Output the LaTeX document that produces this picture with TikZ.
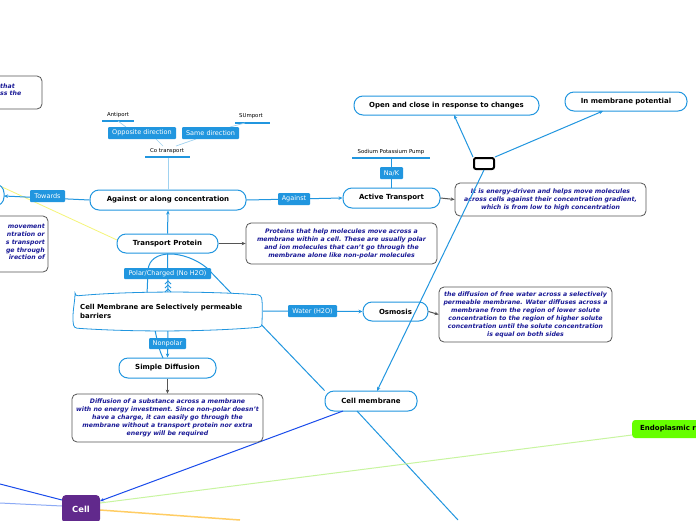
\documentclass[tikz,border=0pt]{standalone}
\usepackage{fontspec}
\setmainfont{DejaVu Sans}
\usetikzlibrary{arrows.meta}
\definecolor{mblue}{RGB}{33,150,223}
\definecolor{lblue}{RGB}{160,210,240}
\definecolor{dblue}{RGB}{25,75,235}
\definecolor{navy}{RGB}{25,25,150}
\definecolor{gborder}{RGB}{85,85,85}
\definecolor{purp}{RGB}{97,41,140}
\definecolor{lgreen}{RGB}{102,255,0}
\definecolor{paleg}{RGB}{200,245,160}
\definecolor{paleo}{RGB}{255,205,100}
\definecolor{paley}{RGB}{245,245,120}
\definecolor{paleb}{RGB}{140,170,245}
\tikzset{
  pill/.style={draw=mblue, line width=1pt, fill=white, rounded corners=9pt, inner sep=0pt, font=\bfseries\fontsize{7}{8}\selectfont},
  tag/.style={fill=mblue, text=white, rounded corners=1pt, inner sep=0pt, font=\fontsize{6.5}{7}\selectfont},
  tinytxt/.style={font=\fontsize{5.4}{6}\selectfont, inner sep=0pt},
  desc/.style={draw=gborder, line width=0.8pt, fill=white, rounded corners=5pt, inner sep=0pt, align=center, text=navy, font=\bfseries\itshape\fontsize{6.2}{8}\selectfont},
  bar/.style={mblue, line width=2pt},
  thinl/.style={lblue, line width=0.7pt},
  conn/.style={mblue, line width=1pt},
  tip/.style={-{Stealth[length=4pt,width=3.5pt]}},
  garrow/.style={gborder, line width=1pt, -{Stealth[length=4pt,width=3.5pt]}},
}
\begin{document}
\begin{tikzpicture}[x=1pt,y=-1pt]
\useasboundingbox (0,0) rectangle (696,520);
\clip (0,0) rectangle (696,520);
\fill[white] (0,0) rectangle (696,520);

% coordinates for free ends
\coordinate (leftc) at (4,196);
\coordinate (yl0) at (0,186);
\coordinate (cb1) at (0,484);
\coordinate (cb2) at (0,503);
\coordinate (co1) at (240,520);
\coordinate (cmd) at (458,520);
\coordinate (loopA) at (207,268);
\coordinate (loopB) at (147,295);

% pale background connectors
\draw[paley, line width=0.8pt] (yl0) -- (117,240);

% partial nodes at the left edge
\draw[gborder, line width=0.8pt, fill=white, rounded corners=5pt] (-40,76) rectangle (42,109);
\node[anchor=west, inner sep=0pt, align=left, text=navy, font=\bfseries\itshape\fontsize{6.2}{7.4}\selectfont] (tl) at (0,89.5) {that\\ss the};
\draw[gborder, line width=0.8pt, fill=white, rounded corners=5pt] (-40,216) rectangle (48,272);
\node[anchor=east, inner sep=0pt, align=right, text=navy, font=\bfseries\itshape\fontsize{6.2}{7.9}\selectfont] (lb) at (45,242) {movement\\ntration or\\s transport\\ge through\\irection of};
\draw[mblue, line width=1pt, fill=white, rounded corners=9pt] (-20,184) rectangle (4,206);

% main pill nodes
\node[pill, minimum width=156, minimum height=20] (against) at (168,200) {Against or along concentration};
\node[pill, minimum width=97, minimum height=20] (active) at (391.5,198) {Active Transport};
\node[pill, minimum width=185, minimum height=19] (open) at (446.5,105.5) {Open and close in response to changes};
\node[pill, minimum width=122, minimum height=19] (inmem) at (626,101.5) {In membrane potential};
\node[pill, minimum width=101, minimum height=19] (tp) at (167.5,243.5) {Transport Protein};
\node[pill, minimum width=65, minimum height=19] (osm) at (395.5,311.5) {Osmosis};
\node[pill, minimum width=97, minimum height=20] (sd) at (167.5,368) {Simple Diffusion};
\node[pill, minimum width=92, minimum height=20] (cm) at (371,401) {Cell membrane};

% small texts and bars
\node[tinytxt] (anti) at (118,115) {Antiport};
\draw[bar] (102,121) -- (134,121);
\node[tinytxt] (sym) at (251,116) {SUmport};
\draw[bar] (235,123) -- (270,123);
\node[tinytxt] (cot) at (167,151) {Co transport};
\draw[bar] (145,157) -- (190,157);
\node[tinytxt] (spp) at (391,152) {Sodium Potassium Pump};
\draw[bar] (352,158) -- (430,158);

% thin light connectors of the co-transport group
\draw[thinl] (118,121) -- (126,127);
\draw[thinl] (245,123) -- (230,127);
\draw[thinl] (156,139) -- (163,146);
\draw[thinl] (196,139) -- (176,146);
\draw[thinl] (168,158) -- (against.north);

% connectors
\draw[conn, tip] (against.west) -- (leftc);
\draw[conn, tip] (against.east) -- (active.west);
\draw[conn] (391.5,158) -- (active.north);
\draw[conn, tip] (tp.north) -- (against.south);
\draw[conn] (cm.north west) -- (loopA) .. controls (185,250) and (150,248) .. (148,270) -- (loopB);
\draw[conn] (155,330) .. controls (158,345) and (160,352) .. (163,358);
\draw[conn] (168,293) -- (tp.south);
\draw[conn, tip] (168,330) -- (sd.north);
\draw[conn, tip] (263,311) -- (osm.west);
\draw[dblue, line width=1pt, tip] (343,411) -- (100,501);
\draw[conn] (357,411) -- (cmd);

% Cell connectors
\draw[dblue, line width=1pt] (62,500) -- (cb1);
\draw[paleb, line width=1pt] (62,506) -- (cb2);
\draw[paleg, line width=1pt] (100,503) -- (632,435);
\draw[paleo, line width=1.5pt] (100,510) -- (co1);

% membrane banner
\draw[mblue, line width=0.8pt, fill=white, rounded corners=3pt] (75,296) .. controls (130,291) and (205,291) .. (261,295)
  .. controls (263,305) and (262,318) .. (262,327)
  .. controls (205,332) and (130,332) .. (74,328)
  .. controls (72,316) and (74,306) .. (75,296) -- cycle;
\node[anchor=west, inner sep=0pt, align=left, font=\bfseries\fontsize{6.9}{9}\selectfont] (memb) at (80,311.5) {Cell Membrane are Selectively permeable\\barriers};

% stacked arrowheads
\foreach \yy in {284,288,292} {
  \draw[mblue, line width=0.8pt] (165,\yy) -- (168,\yy-3) -- (171,\yy);
}

% description boxes
\node[desc, minimum width=191, minimum height=33] (energy) at (550.5,199.5) {It is energy-driven and helps move molecules\\across cells against their concentration gradient,\\which is from low to high concentration};
\node[desc, minimum width=191, minimum height=41] (prot) at (341.5,243.5) {Proteins that help molecules move across a\\membrane within a cell. These are usually polar\\and ion molecules that can't go through the\\membrane alone like non-polar molecules};
\node[desc, minimum width=191, minimum height=48] (diff) at (167.5,418) {Diffusion of a substance across a membrane\\with no energy investment. Since non-polar doesn't\\have a charge, it can easily go through the\\membrane without a transport protein nor extra\\energy will be required};
\node[desc, minimum width=173, minimum height=55] (osmd) at (525.5,314.5) {the diffusion of free water across a selectively\\permeable membrane. Water diffuses across a\\membrane from the region of lower solute\\concentration to the region of higher solute\\concentration until the solute concentration\\is equal on both sides};

\draw[garrow] (active.east) -- (energy.west);
\draw[garrow] (tp.east) -- (prot.west);
\draw[garrow] (sd.south) -- (diff.north);
\draw[garrow] (osm.east) -- (osmd.west);

% black small node
\node[draw=black, line width=2pt, fill=white, rounded corners=2pt, minimum width=20, minimum height=11, inner sep=0pt] (blk) at (484,163.5) {};
\draw[conn, tip] (blk.north west) -- (454,115);
\draw[conn, tip] (blk.north east) -- (603,111);
\draw[conn, tip] (blk.south) -- (377,391);

% tags
\node[tag, minimum width=68, minimum height=12] (opp) at (142,133) {Opposite direction};
\node[tag, minimum width=57, minimum height=12] (same) at (210.5,133) {Same direction};
\node[tag, minimum width=35, minimum height=12] (tow) at (47.5,196) {Towards};
\node[tag, minimum width=32, minimum height=12] (agl) at (294,199) {Against};
\node[tag, minimum width=23, minimum height=12] (nak) at (391.5,173) {Na/K};
\node[tag, minimum width=87, minimum height=11] (polar) at (167.5,273.5) {Polar/Charged (No H2O)};
\node[tag, minimum width=37, minimum height=11] (nonp) at (167.5,343.5) {Nonpolar};
\node[tag, minimum width=49, minimum height=12] (water) at (312.5,311) {Water (H2O)};

% Cell and ER
\node[fill=purp, text=white, rounded corners=4pt, minimum width=38, minimum height=28, inner sep=0pt, font=\bfseries\fontsize{8.4}{9}\selectfont] (cell) at (81,509) {Cell};
\node[fill=lgreen, rounded corners=3pt, minimum width=90, minimum height=18, inner sep=0pt, anchor=west] (er) at (632,429) {};
\node[anchor=west, inner sep=0pt, font=\bfseries\fontsize{7}{8}\selectfont] (ert) at (640,429) {Endoplasmic r};
\end{tikzpicture}
\end{document}
